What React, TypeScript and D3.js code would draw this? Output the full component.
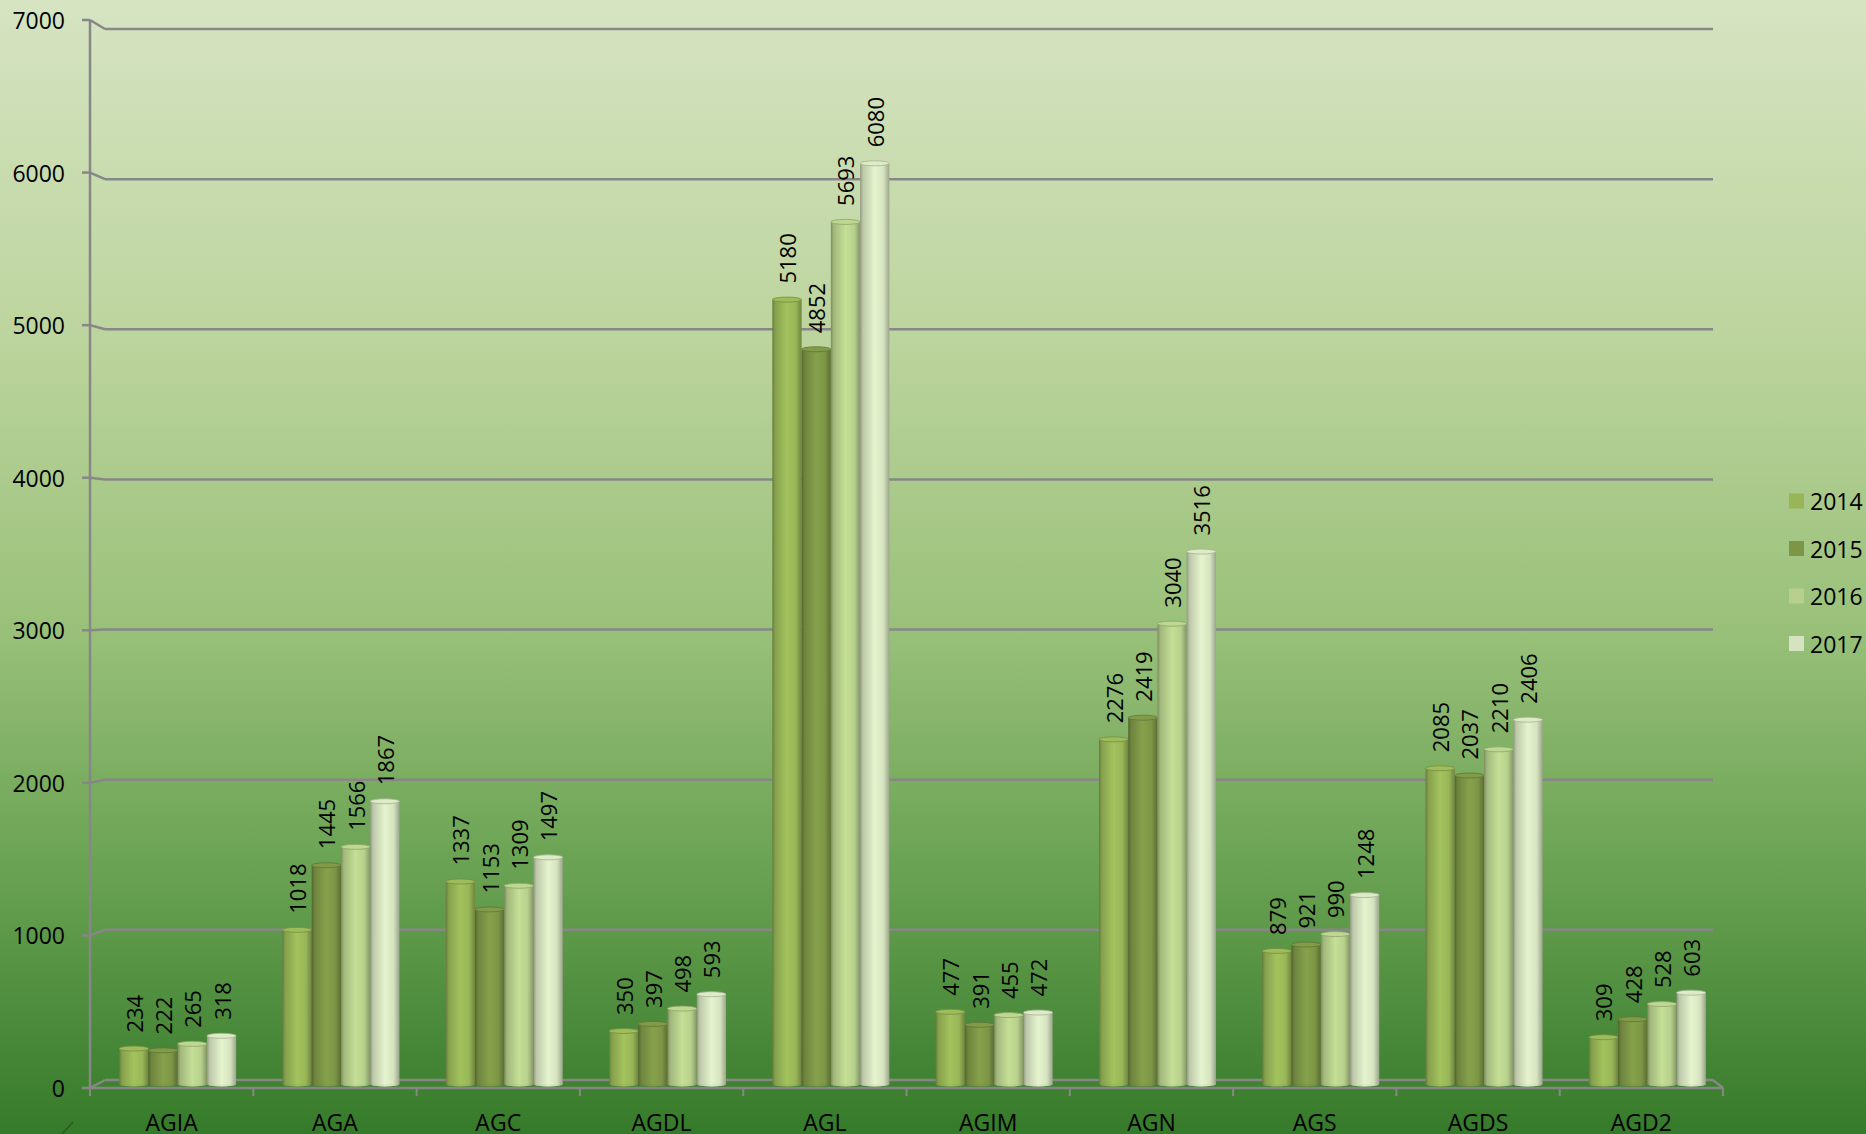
import React from "react";
import { scaleBand, scaleLinear, color as d3color } from "d3";

const categories = ["AGIA", "AGA", "AGC", "AGDL", "AGL", "AGIM", "AGN", "AGS", "AGDS", "AGD2"];
const seriesNames = ["2014", "2015", "2016", "2017"];
const values2014 = [234, 1018, 1337, 350, 5180, 477, 2276, 879, 2085, 309];
const values2015 = [222, 1445, 1153, 397, 4852, 391, 2419, 921, 2037, 428];
const values2016 = [265, 1566, 1309, 498, 5693, 455, 3040, 990, 2210, 528];
const values2017 = [318, 1867, 1497, 593, 6080, 472, 3516, 1248, 2406, 603];
const yTicks = [0, 1000, 2000, 3000, 4000, 5000, 6000, 7000];
const seriesColors = ["#98b657", "#7d9646", "#b7d08c", "#d6e3c0"];

const series = [values2014, values2015, values2016, values2017];

const W = 1866;
const H = 1134;
const FONT = "'Open Sans', 'Noto Sans', sans-serif";

// front plane, back plane and mid-depth (where the cylinders stand)
const yFront = scaleLinear().domain([0, 7000]).range([1088, 20]);
const yBack = scaleLinear().domain([0, 7000]).range([1080, 29]);
const yBar = scaleLinear().domain([0, 7000]).range([1084, 24]);
const x = scaleBand().domain(categories).range([90, 1723]);
const xBackL = 105;
const xBackR = 1713;
const groupW = 117;
const xIn = scaleBand().domain(seriesNames).range([0, groupW]).padding(0);

function shade(c: string, k: number) {
  const col = d3color(c)!;
  return k >= 0 ? col.brighter(k).formatHex() : col.darker(-k).formatHex();
}

function App() {
  const grid = "#878787";
  return (
    <svg width={W} height={H} style={{ display: "block", position: "absolute", left: 0, top: 0 }}>
      <defs>
        <linearGradient id="bg" x1="0" y1="0" x2="0" y2="1">
          <stop offset="0" stopColor="#d6e4c2" />
          <stop offset="0.3" stopColor="#bcd49d" />
          <stop offset="0.55" stopColor="#9ac17a" />
          <stop offset="0.78" stopColor="#66a050" />
          <stop offset="1" stopColor="#357a2a" />
        </linearGradient>
        {seriesColors.map((c, i) => (
          <linearGradient key={i} id={`cyl${i}`} x1="0" y1="0" x2="1" y2="0">
            <stop offset="0" stopColor={shade(c, -1.1)} />
            <stop offset="0.1" stopColor={shade(c, -0.35)} />
            <stop offset="0.5" stopColor={shade(c, 0.2)} />
            <stop offset="0.8" stopColor={c} />
            <stop offset="1" stopColor={shade(c, -0.9)} />
          </linearGradient>
        ))}
      </defs>
      <rect x={0} y={0} width={W} height={H} fill="url(#bg)" />

      {/* gridlines on back wall */}
      {yTicks.map((t) => (
        <g key={t}>
          <line x1={82} x2={90} y1={yFront(t)} y2={yFront(t)} stroke={grid} strokeWidth={2.5} />
          <line x1={90} x2={xBackL} y1={yFront(t)} y2={yBack(t)} stroke={grid} strokeWidth={2.5} />
          <line x1={xBackL} x2={xBackR} y1={yBack(t)} y2={yBack(t)} stroke={grid} strokeWidth={2.5} />
          <text x={65} y={yFront(t)} textAnchor="end" dominantBaseline="central" fontFamily={FONT} fontSize={23} fill="#000">
            {t}
          </text>
        </g>
      ))}
      {/* floor */}
      <line x1={90} x2={1723} y1={1088} y2={1088} stroke={grid} strokeWidth={2.5} />
      <line x1={xBackR} x2={1723} y1={1080} y2={1088} stroke={grid} strokeWidth={2.5} />
      <line x1={90} x2={90} y1={yFront(7000)} y2={1088} stroke={grid} strokeWidth={2.5} />
      {categories.map((c) => (
        <line key={c} x1={x(c)! + x.bandwidth()} x2={x(c)! + x.bandwidth()} y1={1088} y2={1096} stroke={grid} strokeWidth={2} />
      ))}
      <line x1={90} x2={90} y1={1088} y2={1096} stroke={grid} strokeWidth={2} />

      {/* cylinders */}
      {categories.map((c, ci) => {
        const gx = x(c)! + x.bandwidth() / 2 + 6 - groupW / 2;
        return (
          <g key={c}>
            {series.map((vals, si) => {
              const v = vals[ci];
              const bx = gx + xIn(seriesNames[si])!;
              const bw = xIn.bandwidth();
              const top = yBar(v);
              const bottom = yBar(0);
              const ry = 2.5;
              return (
                <g key={si}>
                  <ellipse cx={bx + bw / 2} cy={bottom} rx={bw / 2} ry={ry} fill={shade(seriesColors[si], -0.8)} />
                  <rect x={bx} y={top} width={bw} height={bottom - top} fill={`url(#cyl${si})`} />
                  <ellipse cx={bx + bw / 2} cy={bottom} rx={bw / 2} ry={ry} fill={`url(#cyl${si})`} opacity={0.9} />
                  <ellipse cx={bx + bw / 2} cy={top} rx={bw / 2} ry={ry} fill={shade(seriesColors[si], 0.1)} stroke={shade(seriesColors[si], -0.7)} strokeWidth={0.8} />
                  <text
                    transform={`translate(${bx + bw / 2},${top - 16}) rotate(-90)`}
                    textAnchor="start"
                    dominantBaseline="central"
                    fontFamily={FONT}
                    fontSize={22}
                    fill="#000"
                  >
                    {v}
                  </text>
                </g>
              );
            })}
          </g>
        );
      })}

      {/* category labels */}
      {categories.map((c) => (
        <text key={c} x={x(c)! + x.bandwidth() / 2} y={1122} textAnchor="middle" dominantBaseline="central" fontFamily={FONT} fontSize={23} fill="#000">
          {c}
        </text>
      ))}

      {/* legend */}
      {seriesNames.map((s, i) => {
        const ly = 501 + i * 47.5;
        return (
          <g key={s}>
            <rect x={1789} y={ly - 7.5} width={15} height={15} fill={seriesColors[i]} />
            <text x={1810} y={ly} dominantBaseline="central" fontFamily={FONT} fontSize={23} fill="#000">
              {s}
            </text>
          </g>
        );
      })}
      <line x1={62} x2={73} y1={1134} y2={1122} stroke="#2a5a22" strokeWidth={1.5} />
    </svg>
  );
}

export default App;
